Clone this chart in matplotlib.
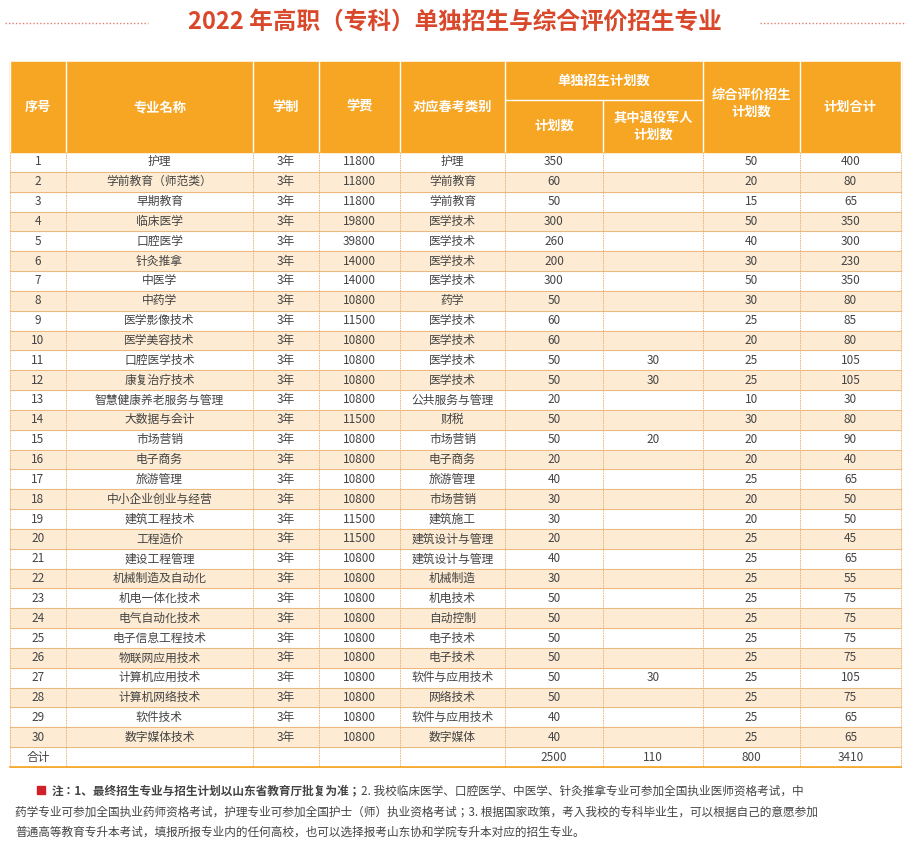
import matplotlib
matplotlib.use("Agg")
import matplotlib.pyplot as plt
from matplotlib.patches import Rectangle

plt.rcParams["font.family"] = ["Noto Sans CJK JP", "Noto Sans CJK SC", "Noto Sans CJK TC",
                               "Noto Sans CJK KR", "DejaVu Sans"]

# ---------------------------------------------------------------- data
names = ["护理", "学前教育（师范类）", "早期教育", "临床医学", "口腔医学", "针灸推拿", "中医学",
         "中药学", "医学影像技术", "医学美容技术", "口腔医学技术", "康复治疗技术", "智慧健康养老服务与管理",
         "大数据与会计", "市场营销", "电子商务", "旅游管理", "中小企业创业与经营", "建筑工程技术",
         "工程造价", "建设工程管理", "机械制造及自动化", "机电一体化技术", "电气自动化技术",
         "电子信息工程技术", "物联网应用技术", "计算机应用技术", "计算机网络技术", "软件技术", "数字媒体技术"]
fees = [11800, 11800, 11800, 19800, 39800, 14000, 14000, 10800, 11500, 10800, 10800, 10800, 10800,
        11500, 10800, 10800, 10800, 10800, 11500, 11500, 10800, 10800, 10800, 10800, 10800, 10800,
        10800, 10800, 10800, 10800]
exam_cat = ["护理", "学前教育", "学前教育", "医学技术", "医学技术", "医学技术", "医学技术", "药学",
            "医学技术", "医学技术", "医学技术", "医学技术", "公共服务与管理", "财税", "市场营销", "电子商务",
            "旅游管理", "市场营销", "建筑施工", "建筑设计与管理", "建筑设计与管理", "机械制造", "机电技术",
            "自动控制", "电子技术", "电子技术", "软件与应用技术", "网络技术", "软件与应用技术", "数字媒体"]
single_plan = [350, 60, 50, 300, 260, 200, 300, 50, 60, 60, 50, 50, 20, 50, 50, 20, 40, 30, 30, 20,
               40, 30, 50, 50, 50, 50, 50, 50, 40, 40]
veteran_plan = {11: 30, 12: 30, 15: 20, 27: 30}
comp_plan = [50, 20, 15, 50, 40, 30, 50, 30, 25, 20, 25, 25, 10, 30, 20, 20, 25, 20, 20, 25, 25,
             25, 25, 25, 25, 25, 25, 25, 25, 25]
total_plan = [400, 80, 65, 350, 300, 230, 350, 80, 85, 80, 105, 105, 30, 80, 90, 40, 65, 50, 50, 45,
              65, 55, 75, 75, 75, 75, 105, 75, 65, 65]
sums = ["2500", "110", "800", "3410"]

note_bold = "注：1、最终招生专业与招生计划以山东省教育厅批复为准；"
notes = [
    "2. 我校临床医学、口腔医学、中医学、针灸推拿专业可参加全国执业医师资格考试，中",
    "药学专业可参加全国执业药师资格考试，护理专业可参加全国护士（师）执业资格考试；3. 根据国家政策，考入我校的专科毕业生，可以根据自己的意愿参加",
    "普通高等教育专升本考试，填报所报专业内的任何高校，也可以选择报考山东协和学院专升本对应的招生专业。",
]

# ---------------------------------------------------------------- layout
xs = [10, 66, 253, 319, 400, 505, 603, 703, 800, 901]
top, sub, head_bot, bot = 62, 100, 152, 767
nrow = 31
rh = (bot - head_bot) / nrow
ORANGE = "#f6a623"
LIGHT = "#fdebd3"
LINE = "#e8b070"
TXT = "#444444"

fig = plt.figure(figsize=(9.11, 8.44), dpi=100)
ax = fig.add_axes([0, 0, 1, 1])
ax.set_xlim(0, 911)
ax.set_ylim(844, 0)
ax.axis("off")

# title
ax.text(455, 22, "2022 年高职（专科）单独招生与综合评价招生专业", ha="center", va="center",
        fontsize=17, color="#d9482b", fontweight="bold")
ax.plot([5, 148], [23, 23], ls=(0, (1, 1.5)), color="#e08070", lw=1)
ax.plot([760, 906], [23, 23], ls=(0, (1, 1.5)), color="#e08070", lw=1)

# header
ax.add_patch(Rectangle((xs[0], top), xs[-1] - xs[0], head_bot - top, color=ORANGE, zorder=0))
for i, x in enumerate(xs):
    if i == 6:
        ax.plot([x, x], [sub, head_bot], color="white", lw=1)
    else:
        ax.plot([x, x], [top, head_bot], color="white", lw=1)
ax.plot([xs[5], xs[7]], [sub, sub], color="white", lw=1)
hd = dict(ha="center", va="center", color="white", fontsize=9.5, fontweight="bold")
mid = (top + head_bot) / 2
for i, lab in enumerate(["序号", "专业名称", "学制", "学费", "对应春考类别"]):
    ax.text((xs[i] + xs[i + 1]) / 2, mid, lab, **hd)
ax.text((xs[5] + xs[7]) / 2, (top + sub) / 2, "单独招生计划数", **hd)
ax.text((xs[5] + xs[6]) / 2, (sub + head_bot) / 2, "计划数", **hd)
ax.text((xs[6] + xs[7]) / 2, (sub + head_bot) / 2, "其中退役军人\n计划数", linespacing=1.3, **hd)
ax.text((xs[7] + xs[8]) / 2, mid - 4, "综合评价招生\n计划数", linespacing=1.3, **hd)
ax.text((xs[8] + xs[9]) / 2, mid, "计划合计", **hd)

# body
for r in range(nrow):
    y0 = head_bot + r * rh
    if r % 2 == 1:
        ax.add_patch(Rectangle((xs[0], y0), xs[-1] - xs[0], rh, color=LIGHT, zorder=0))
    ax.plot([xs[0], xs[-1]], [y0 + rh, y0 + rh], color=LINE, lw=0.6)
    yc = y0 + rh / 2
    if r < 30:
        cells = [str(r + 1), names[r], "3年", str(fees[r]), exam_cat[r], str(single_plan[r]),
                 str(veteran_plan.get(r + 1, "")), str(comp_plan[r]), str(total_plan[r])]
    else:
        cells = ["合计", "", "", "", ""] + sums
    for c, t in enumerate(cells):
        ax.text((xs[c] + xs[c + 1]) / 2, yc, t, ha="center", va="center", fontsize=8.5, color=TXT)
for x in xs:
    ax.plot([x, x], [head_bot, bot], color=LINE, lw=0.6, ls=(0, (2, 1)))
ax.plot([xs[0], xs[-1]], [bot, bot], color=ORANGE, lw=1.2)

# notes
ax.add_patch(Rectangle((37, 786), 8, 8, color="#d0202a"))
t0 = ax.text(52, 791, note_bold, ha="left", va="center", fontsize=8.4, color=TXT, fontweight="bold")
fig.canvas.draw()
bb = t0.get_window_extent()
x_end = ax.transData.inverted().transform((bb.x1, bb.y0))[0]
ax.text(x_end, 791, notes[0], ha="left", va="center", fontsize=8.4, color=TXT)
ax.text(15, 812, notes[1], ha="left", va="center", fontsize=8.4, color=TXT)
ax.text(15, 832, notes[2], ha="left", va="center", fontsize=8.4, color=TXT)

fig.savefig("out.png", dpi=100)
